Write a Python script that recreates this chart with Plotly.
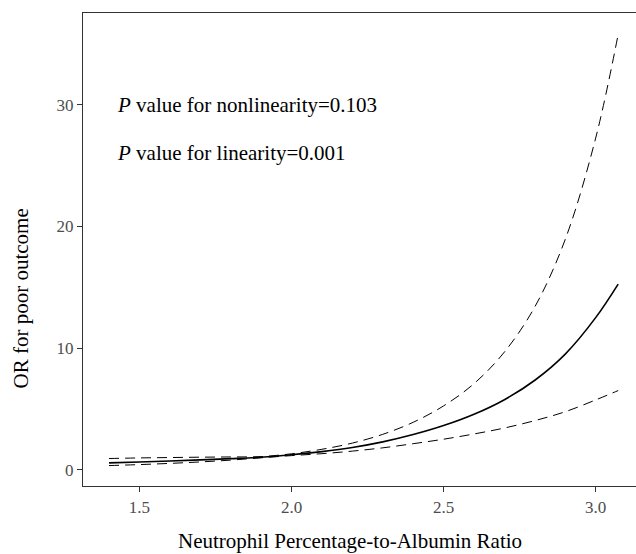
import plotly.graph_objects as go

# Data
npar = [1.40, 1.50, 1.60, 1.70, 1.80, 1.90, 2.00, 2.10, 2.20, 2.30, 2.40, 2.50,
        2.60, 2.70, 2.80, 2.90, 3.00, 3.074]
or_est = [0.55, 0.63, 0.71, 0.80, 0.90, 1.02, 1.22, 1.48, 1.82, 2.28, 2.88, 3.62,
          4.55, 5.75, 7.35, 9.50, 12.5, 15.26]
or_upper = [0.91, 0.96, 0.99, 1.02, 1.04, 1.07, 1.30, 1.67, 2.18, 2.90, 3.89, 5.24,
            7.07, 9.67, 13.39, 18.94, 27.27, 35.81]
or_lower = [0.33, 0.41, 0.51, 0.63, 0.78, 0.97, 1.15, 1.31, 1.52, 1.79, 2.13, 2.50,
            2.93, 3.42, 4.03, 4.76, 5.73, 6.50]

x_ticks = [1.5, 2.0, 2.5, 3.0]
x_tick_labels = ["1.5", "2.0", "2.5", "3.0"]
y_ticks = [0, 10, 20, 30]
y_tick_labels = ["0", "10", "20", "30"]

FONT = "Liberation Serif, Times New Roman, serif"

fig = go.Figure()
fig.add_trace(go.Scatter(x=npar, y=or_upper, mode="lines", line_shape="spline",
                         line=dict(color="black", width=1, dash="10px,6px"),
                         showlegend=False, hoverinfo="skip"))
fig.add_trace(go.Scatter(x=npar, y=or_lower, mode="lines", line_shape="spline",
                         line=dict(color="black", width=1, dash="10px,6px"),
                         showlegend=False, hoverinfo="skip"))
fig.add_trace(go.Scatter(x=npar, y=or_est, mode="lines", line_shape="spline",
                         line=dict(color="black", width=1.6),
                         showlegend=False))

fig.add_annotation(x=1.42, y=30.0, xref="x", yref="y", xanchor="left", yanchor="middle",
                   text="<i>P</i> value for nonlinearity=0.103", showarrow=False,
                   font=dict(family=FONT, size=21, color="black"))
fig.add_annotation(x=1.42, y=26.05, xref="x", yref="y", xanchor="left", yanchor="middle",
                   text="<i>P</i> value for linearity=0.001", showarrow=False,
                   font=dict(family=FONT, size=21, color="black"))

# axis titles placed as paper annotations (pixel offsets from plot area)
fig.add_annotation(x=0.5, y=0, xref="paper", yref="paper", yshift=-55, xshift=-10,
                   xanchor="center", yanchor="middle", showarrow=False,
                   text="Neutrophil Percentage-to-Albumin Ratio",
                   font=dict(family=FONT, size=21, color="black"))
fig.add_annotation(x=0, y=0.5, xref="paper", yref="paper", xshift=-63, yshift=-49,
                   xanchor="center", yanchor="middle", showarrow=False, textangle=-90,
                   text="OR for poor outcome",
                   font=dict(family=FONT, size=21, color="black"))

fig.update_layout(
    width=636, height=554,
    margin=dict(l=83, r=0, t=13, b=68),
    paper_bgcolor="white", plot_bgcolor="white",
    font=dict(family=FONT, color="black"),
    xaxis=dict(range=[1.3145, 3.1326], tickvals=x_ticks, ticktext=x_tick_labels,
               showgrid=False, zeroline=False, showline=True, linecolor="#333333",
               linewidth=1.2, mirror=True, ticks="outside", ticklen=5, tickwidth=1,
               tickcolor="#333333", tickfont=dict(family=FONT, size=17, color="#4d4d4d"),
               automargin=False),
    yaxis=dict(range=[-1.35, 37.56], tickvals=y_ticks, ticktext=y_tick_labels,
               showgrid=False, zeroline=False, showline=True, linecolor="#333333",
               linewidth=1.2, ticks="outside", ticklen=5, tickwidth=1,
               tickcolor="#333333", tickfont=dict(family=FONT, size=17, color="#4d4d4d"),
               automargin=False),
)

fig.write_html("out.html", config={"displayModeBar": False})

# remove the default page margin so the figure sits at the window's top-left corner
with open("out.html", "r", encoding="utf-8") as f:
    html = f.read()
html = html.replace("<head>", "<head><style>html,body{margin:0;padding:0;overflow:hidden;}</style>", 1)
with open("out.html", "w", encoding="utf-8") as f:
    f.write(html)
